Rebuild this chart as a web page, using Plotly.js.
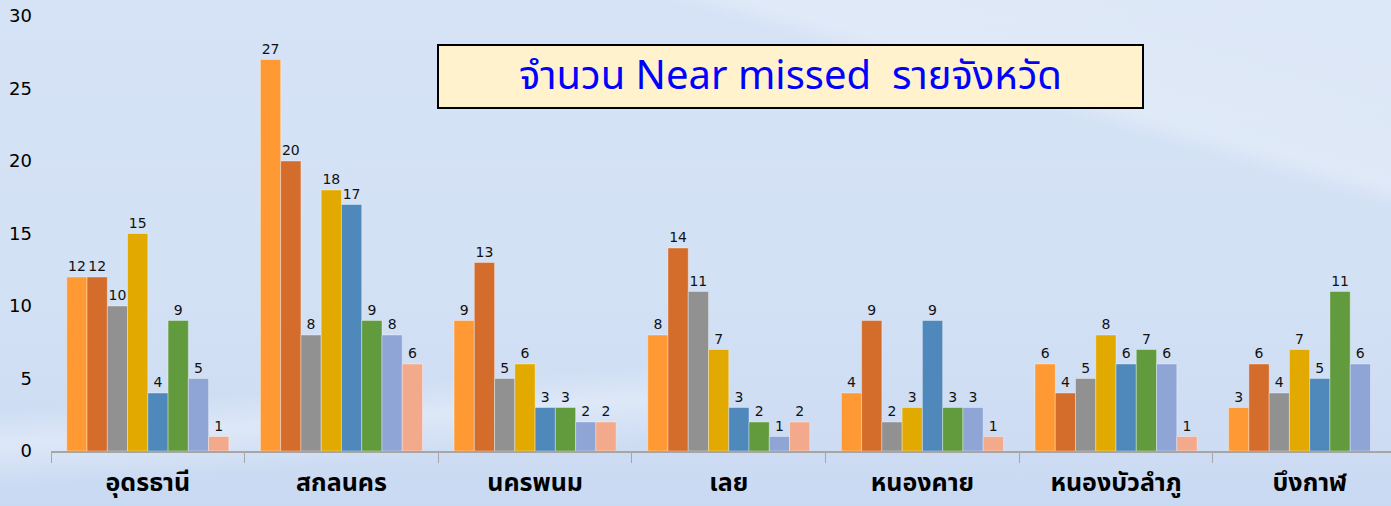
<!DOCTYPE html>
<html>
<head>
<meta charset="utf-8">
<script src="https://cdn.plot.ly/plotly-3.0.1.min.js"></script>
<style>
  html, body { margin: 0; padding: 0; width: 1391px; height: 506px; overflow: hidden; }
  body {
    background:
      linear-gradient(16deg, rgba(255,255,255,0) 0%, rgba(255,255,255,0) 77%, rgba(232,239,249,0.55) 79.5%, rgba(226,235,248,0.5) 100%),
      linear-gradient(176deg, rgba(255,255,255,0) 74%, rgba(236,242,251,0.5) 80%, rgba(255,255,255,0) 88%) bottom left / 700px 506px no-repeat,
      linear-gradient(180deg, #d6e3f6 0%, #d3e1f5 55%, #cddcf3 90%, #c8d9f2 100%);
  }
  #chart { width: 1391px; height: 506px; }
</style>
</head>
<body>
<div id="chart"></div>
<script>
const categories = ["อุดรธานี", "สกลนคร", "นครพนม", "เลย", "หนองคาย", "หนองบัวลำภู", "บึงกาฬ"];
const series1 = [12, 27, 9, 8, 4, 6, 3];
const series2 = [12, 20, 13, 14, 9, 4, 6];
const series3 = [10, 8, 5, 11, 2, 5, 4];
const series4 = [15, 18, 6, 7, 3, 8, 7];
const series5 = [4, 17, 3, 3, 9, 6, 5];
const series6 = [9, 9, 3, 2, 3, 7, 11];
const series7 = [5, 8, 2, 1, 3, 6, 6];
const series8 = [1, 6, 2, 2, 1, 1, null];
const seriesNames = ["ชุด 1", "ชุด 2", "ชุด 3", "ชุด 4", "ชุด 5", "ชุด 6", "ชุด 7", "ชุด 8"];
const yTicks = [0, 5, 10, 15, 20, 25, 30];
const titleText = "จำนวน Near missed&nbsp;&nbsp;รายจังหวัด";

const allSeries = [series1, series2, series3, series4, series5, series6, series7, series8];
const colors = ["#FF9933", "#D46C2B", "#919191", "#E2AA00", "#4F89BC", "#629B3E", "#8FA5D6", "#F2A98C"];
const numFont = "Tahoma, 'DejaVu Sans', Verdana, sans-serif";
const thaiFont = "Tahoma, 'Noto Sans Thai', 'Noto Sans', 'DejaVu Sans', sans-serif";

const traces = allSeries.map((vals, i) => ({
  type: "bar",
  name: seriesNames[i],
  x: categories,
  y: vals,
  marker: { color: colors[i], line: { color: "rgba(255,255,255,0.35)", width: 1 } },
  text: vals.map(v => v === null ? "" : String(v)),
  textposition: "outside",
  cliponaxis: false,
  textfont: { family: numFont, size: 14, color: "#111" },
  hoverinfo: "x+y+name"
}));

const layout = {
  width: 1391, height: 506,
  margin: { l: 51, r: 0, t: 16, b: 55 },
  paper_bgcolor: "rgba(0,0,0,0)",
  plot_bgcolor: "rgba(0,0,0,0)",
  showlegend: false,
  barmode: "group",
  bargap: 0.163,
  bargroupgap: 0,
  xaxis: {
    type: "category",
    range: [-0.5, 6.42],
    showgrid: false,
    showline: true,
    linecolor: "#a6a6a6",
    linewidth: 1.5,
    ticks: "outside",
    tickson: "boundaries",
    ticklen: 10,
    tickcolor: "#a6a6a6",
    tickwidth: 1,
    ticklabelstandoff: 8,
    tickfont: { family: thaiFont, size: 25, color: "#000", weight: "bold" },
    zeroline: false
  },
  yaxis: {
    range: [0, 30],
    tickvals: yTicks,
    ticktext: yTicks.map(String),
    showgrid: false,
    showline: false,
    zeroline: false,
    ticks: "",
    ticklabelstandoff: 18,
    tickfont: { family: numFont, size: 18, color: "#000" }
  },
  annotations: [{
    xref: "paper", yref: "paper",
    x: 0.5519, y: 0.861,
    xanchor: "center", yanchor: "middle",
    text: titleText,
    showarrow: false,
    font: { family: thaiFont, size: 40, color: "#0000FF" },
    bgcolor: "#FFF2CC",
    bordercolor: "#000",
    borderwidth: 2,
    borderpad: 0,
    width: 703,
    height: 61
  }]
};

Plotly.newPlot("chart", traces, layout, { displayModeBar: false, staticPlot: true });
</script>
</body>
</html>
